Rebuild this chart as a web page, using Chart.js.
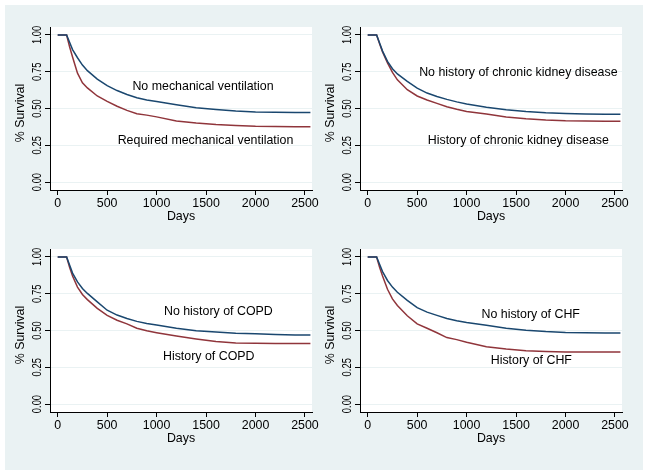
<!DOCTYPE html>
<html>
<head>
  <meta charset="utf-8" />
  <title>Survival by risk factor</title>
  <script src="https://cdn.jsdelivr.net/npm/chart.js@4"></script>
  <style>
    body { margin: 0; background: #fff; }
    #fig {
      position: absolute; left: 5px; top: 5px;
      width: 638px; height: 465px;
      background: #eaf2f3;
    }
    canvas { position: absolute; }
  </style>
</head>
<body>
  <div id="fig"></div>
  <canvas id="c1" width="324" height="235" style="left:0px;top:0px"></canvas>
  <canvas id="c2" width="324" height="235" style="left:310px;top:0px"></canvas>
  <canvas id="c3" width="324" height="235" style="left:0px;top:222px"></canvas>
  <canvas id="c4" width="324" height="235" style="left:310px;top:222px"></canvas>

  <script>
    // days since admission, shared by every curve
    const days = [0, 90, 120, 150, 200, 250, 300, 400, 500, 600, 700, 800, 900, 1000, 1200, 1400, 1600, 1800, 2000, 2200, 2400, 2555];

    // mechanical ventilation
    const noVent  = [1, 1, 0.95, 0.90, 0.845, 0.795, 0.757, 0.70, 0.655, 0.622, 0.595, 0.573, 0.558, 0.548, 0.525, 0.505, 0.493, 0.483, 0.477, 0.474, 0.473, 0.473];
    const reqVent = [1, 1, 0.92, 0.85, 0.74, 0.675, 0.640, 0.585, 0.548, 0.515, 0.487, 0.465, 0.455, 0.443, 0.415, 0.402, 0.392, 0.385, 0.380, 0.378, 0.376, 0.376];

    // chronic kidney disease
    const noCkd = [1, 1, 0.945, 0.89, 0.82, 0.77, 0.735, 0.685, 0.638, 0.605, 0.582, 0.562, 0.545, 0.530, 0.508, 0.492, 0.480, 0.471, 0.466, 0.463, 0.461, 0.461];
    const ckd   = [1, 1, 0.94, 0.885, 0.81, 0.745, 0.695, 0.628, 0.585, 0.558, 0.535, 0.512, 0.495, 0.480, 0.462, 0.443, 0.430, 0.422, 0.417, 0.415, 0.414, 0.414];

    // COPD
    const noCopd = [1, 1, 0.945, 0.89, 0.83, 0.785, 0.752, 0.695, 0.638, 0.605, 0.582, 0.562, 0.547, 0.537, 0.515, 0.499, 0.490, 0.482, 0.478, 0.473, 0.470, 0.469];
    const copd   = [1, 1, 0.93, 0.87, 0.795, 0.745, 0.71, 0.65, 0.603, 0.570, 0.545, 0.515, 0.498, 0.485, 0.462, 0.442, 0.425, 0.415, 0.413, 0.412, 0.411, 0.411];

    // congestive heart failure
    const noChf = [1, 1, 0.95, 0.90, 0.84, 0.795, 0.76, 0.705, 0.655, 0.625, 0.603, 0.582, 0.567, 0.555, 0.535, 0.516, 0.502, 0.493, 0.487, 0.485, 0.483, 0.483];
    const chf   = [1, 1, 0.93, 0.87, 0.78, 0.715, 0.67, 0.60, 0.545, 0.515, 0.485, 0.452, 0.438, 0.420, 0.390, 0.374, 0.362, 0.357, 0.354, 0.354, 0.354, 0.354];

    const xTicks = [0, 500, 1000, 1500, 2000, 2500];
    const yTicks = [0, 0.25, 0.5, 0.75, 1];

    const FONT_FAMILY = '"Liberation Sans", Arial, Helvetica, sans-serif';
    const FONT = '12.4px ' + FONT_FAMILY;
    const NAVY = '#1a476f';
    const MAROON = '#90353b';

    // white plot region, rotated y labels and the curve captions
    const stataText = {
      id: 'stataText',
      beforeDraw(chart) {
        const { ctx, chartArea: a } = chart;
        ctx.save();
        ctx.fillStyle = '#fff';
        ctx.fillRect(a.left, a.top, a.right - a.left, a.bottom - a.top);
        ctx.restore();
      },
      afterDraw(chart, args, opts) {
        const { ctx, chartArea: a, scales: { x, y } } = chart;
        ctx.save();
        ctx.fillStyle = '#000';
        ctx.font = FONT;
        ctx.textAlign = 'center';
        ctx.textBaseline = 'alphabetic';

        yTicks.forEach(v => {
          ctx.save();
          ctx.translate(a.left - 9.5, y.getPixelForValue(v));
          ctx.rotate(-Math.PI / 2);
          ctx.scale(0.76, 1);
          ctx.fillText(v.toFixed(2), 0, 0);
          ctx.restore();
        });

        ctx.save();
        ctx.translate(a.left - 26, (a.top + a.bottom) / 2 + 4.5);
        ctx.rotate(-Math.PI / 2);
        ctx.fillText('% Survival', 0, 0);
        ctx.restore();

        opts.captions.forEach(c => {
          ctx.fillText(c.text, x.getPixelForValue(c.x), y.getPixelForValue(c.y));
        });
        ctx.restore();
      }
    };

    function makePanel(id, top, bottom, captions) {
      const ctx = document.getElementById(id).getContext('2d');
      return new Chart(ctx, {
        type: 'line',
        data: {
          datasets: [
            {
              data: days.map((d, i) => ({ x: d, y: top[i] })),
              borderColor: NAVY,
              borderWidth: 1.5,
              pointRadius: 0,
              tension: 0
            },
            {
              data: days.map((d, i) => ({ x: d, y: bottom[i] })),
              borderColor: MAROON,
              borderWidth: 1.5,
              pointRadius: 0,
              tension: 0
            }
          ]
        },
        options: {
          responsive: false,
          animation: false,
          layout: { padding: { left: 0, top: 27, right: 12, bottom: 0 } },
          plugins: {
            legend: { display: false },
            tooltip: { enabled: false },
            stataText: { captions: captions }
          },
          scales: {
            x: {
              type: 'linear',
              min: -78,
              max: 2571,
              afterBuildTicks: s => { s.ticks = xTicks.map(v => ({ value: v })); },
              afterFit: s => { s.height = 45; s.paddingLeft = 0; s.paddingRight = 0; },
              ticks: {
                autoSkip: false,
                maxRotation: 0,
                padding: 1,
                color: '#000',
                font: { family: FONT_FAMILY, size: 12.4 },
                callback: v => String(v)
              },
              grid: { drawOnChartArea: false, tickLength: 5, tickColor: '#000' },
              border: { color: '#000', width: 1 },
              title: {
                display: true,
                text: 'Days',
                color: '#000',
                font: { family: FONT_FAMILY, size: 12.4 },
                padding: { top: 0, bottom: 11 }
              }
            },
            y: {
              type: 'linear',
              min: -0.054,
              max: 1.054,
              afterBuildTicks: s => { s.ticks = yTicks.map(v => ({ value: v })); },
              afterFit: s => { s.width = 50; s.paddingTop = 0; s.paddingBottom = 0; },
              ticks: { display: false },
              grid: { color: '#eaf2f3', tickLength: 5, tickColor: '#000' },
              border: { color: '#000', width: 1 }
            }
          }
        },
        plugins: [stataText]
      });
    }

    makePanel('c1', noVent, reqVent, [
      { text: 'No mechanical ventilation', x: 1469, y: 0.624 },
      { text: 'Required mechanical ventilation', x: 1494, y: 0.257 }
    ]);
    makePanel('c2', noCkd, ckd, [
      { text: 'No history of chronic kidney disease', x: 1523, y: 0.721 },
      { text: 'History of chronic kidney disease', x: 1523, y: 0.259 }
    ]);
    makePanel('c3', noCopd, copd, [
      { text: 'No history of COPD', x: 1624, y: 0.605 },
      { text: 'History of COPD', x: 1527, y: 0.297 }
    ]);
    makePanel('c4', noChf, chf, [
      { text: 'No history of CHF', x: 1648, y: 0.583 },
      { text: 'History of CHF', x: 1654, y: 0.274 }
    ]);
  </script>
</body>
</html>
